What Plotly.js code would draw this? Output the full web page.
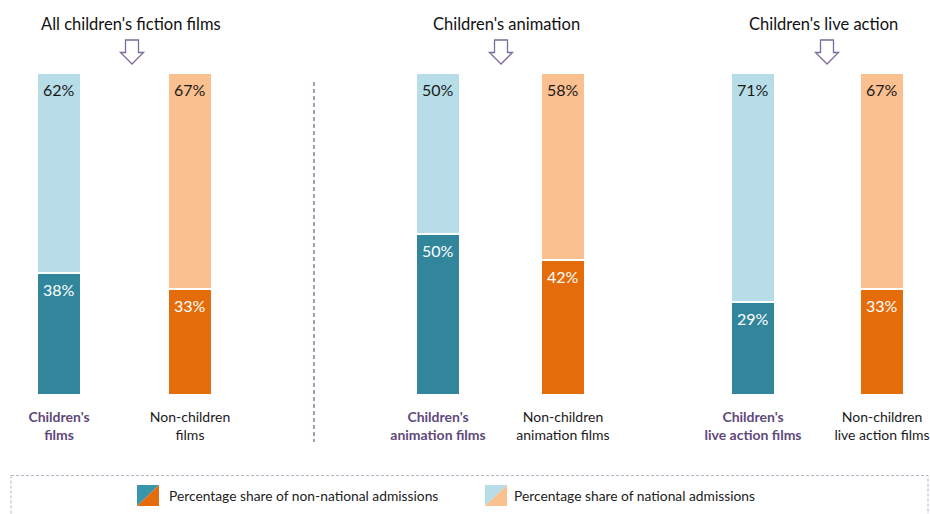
<!DOCTYPE html>
<html>
<head>
<meta charset="utf-8">
<script src="https://cdn.plot.ly/plotly-3.0.1.min.js"></script>
<style>html,body{margin:0;padding:0;background:#fff;}#chart{width:930px;height:514px;}</style>
</head>
<body>
<div id="chart"></div>
<script>
// ---- data ----
const categories = ["Children's films", "Non-children films", "Children's animation films", "Non-children animation films", "Children's live action films", "Non-children live action films"];
const tickLabels = ["Children's<br>films", "Non-children<br>films", "Children's<br>animation films", "Non-children<br>animation films", "Children's<br>live action films", "Non-children<br>live action films"];
const isChildren = [true, false, true, false, true, false];
const nonNational = [38, 33, 50, 42, 29, 33];
const national = [62, 67, 50, 58, 71, 67];
const groupTitles = ["All children's fiction films", "Children's animation", "Children's live action"];
const seriesNames = ["Percentage share of non-national admissions", "Percentage share of national admissions"];

// ---- layout constants ----
const W = 930, H = 514, TOP = 73, BOTTOM = 395;
const xPos = [59, 190, 438, 563, 753, 882];
const titleX = [131, 506, 823];
const arrowX = [132, 501, 827];
const FONT = "Lato, 'Open Sans', sans-serif";
const TEAL = '#31869B', LBLUE = '#B7DEE8', ORANGE = '#E46C0A', LORANGE = '#FAC090';
const PURPLE = '#5F497A';

const px = v => v / W;
const py = v => (BOTTOM - v) / (BOTTOM - TOP);

const darkColors = isChildren.map(c => c ? TEAL : ORANGE);
const lightColors = isChildren.map(c => c ? LBLUE : LORANGE);

const traces = [
  {type: 'bar', name: seriesNames[0], x: xPos, y: nonNational, width: 44,
   marker: {color: darkColors, line: {color: '#ffffff', width: 2}}, hoverinfo: 'skip', showlegend: false},
  {type: 'bar', name: seriesNames[1], x: xPos, y: national, width: 44,
   marker: {color: lightColors, line: {color: '#ffffff', width: 2}}, hoverinfo: 'skip', showlegend: false}
];

const annotations = [];
nonNational.forEach((v, i) => {
  annotations.push({x: xPos[i], y: v, xref: 'x', yref: 'y', text: v + '%', showarrow: false,
    yanchor: 'middle', yshift: -16.5, font: {family: FONT, size: 16, color: '#ffffff'}});
  annotations.push({x: xPos[i], y: v + national[i], xref: 'x', yref: 'y', text: national[i] + '%', showarrow: false,
    yanchor: 'middle', yshift: -16.5, font: {family: FONT, size: 16, color: '#1a1a1a'}});
});
groupTitles.forEach((t, i) => {
  annotations.push({x: px(titleX[i]), y: py(24.5), xref: 'paper', yref: 'paper', text: t, showarrow: false,
    xanchor: 'center', yanchor: 'middle', font: {family: FONT, size: 16.5, color: '#111111'}});
});
// legend texts
annotations.push({x: px(167), y: py(496), xref: 'paper', yref: 'paper', text: seriesNames[0], showarrow: false,
  xanchor: 'left', yanchor: 'middle', font: {family: FONT, size: 13.8, color: '#222222'}});
annotations.push({x: px(512), y: py(495), xref: 'paper', yref: 'paper', text: seriesNames[1], showarrow: false,
  xanchor: 'left', yanchor: 'middle', font: {family: FONT, size: 13.8, color: '#222222'}});

const shapes = [];
// arrows
arrowX.forEach(cx => {
  const pts = [[cx-6.5,40],[cx+6.5,40],[cx+6.5,52.5],[cx+11.5,52.5],[cx,64],[cx-11.5,52.5],[cx-6.5,52.5]];
  const d = 'M' + pts.map(p => px(p[0]) + ',' + py(p[1])).join(' L') + ' Z';
  shapes.push({type: 'path', xref: 'paper', yref: 'paper', path: d, line: {color: '#7B6A9A', width: 1.3}, fillcolor: 'rgba(0,0,0,0)'});
});
// divider
shapes.push({type: 'line', xref: 'paper', yref: 'paper', x0: px(314), x1: px(314), y0: py(82), y1: py(442),
  line: {color: '#6B5A8E', width: 1.2, dash: '4px,3px'}});
// legend box
shapes.push({type: 'rect', xref: 'paper', yref: 'paper', x0: px(11), x1: px(928), y0: py(475.5), y1: py(530),
  line: {color: '#B9B2C8', width: 1, dash: '3px,2px'}, fillcolor: 'rgba(0,0,0,0)'});
// legend swatches (diagonal split)
function swatch(x0, y0, c1, c2) {
  const x1 = x0 + 22, y1 = y0 + 21;
  shapes.push({type: 'path', xref: 'paper', yref: 'paper', line: {width: 0}, fillcolor: c1,
    path: `M${px(x0)},${py(y0)} L${px(x1)},${py(y0)} L${px(x0)},${py(y1)} Z`});
  shapes.push({type: 'path', xref: 'paper', yref: 'paper', line: {width: 0}, fillcolor: c2,
    path: `M${px(x1)},${py(y0)} L${px(x1)},${py(y1)} L${px(x0)},${py(y1)} Z`});
}
swatch(137, 485, '#3A95AB', ORANGE);
swatch(485, 485, LBLUE, LORANGE);

const tickText = tickLabels.map((t, i) => isChildren[i]
  ? `<span style="color:${PURPLE}"><b>${t}</b></span>` : t);

const layout = {
  width: W, height: H,
  margin: {l: 0, r: 0, t: TOP, b: H - BOTTOM, pad: 0},
  paper_bgcolor: '#ffffff', plot_bgcolor: '#ffffff',
  barmode: 'stack', showlegend: false,
  font: {family: FONT, color: '#1a1a1a'},
  xaxis: {range: [0, W], tickvals: xPos, ticktext: tickText, showgrid: false, zeroline: false, showline: false,
    ticks: '', ticklabelstandoff: 12, tickfont: {family: FONT, size: 14, color: '#1a1a1a'}, fixedrange: true},
  yaxis: {range: [0, 100], visible: false, fixedrange: true},
  annotations: annotations,
  shapes: shapes
};

Plotly.newPlot('chart', traces, layout, {displayModeBar: false, staticPlot: true});
</script>
</body>
</html>
